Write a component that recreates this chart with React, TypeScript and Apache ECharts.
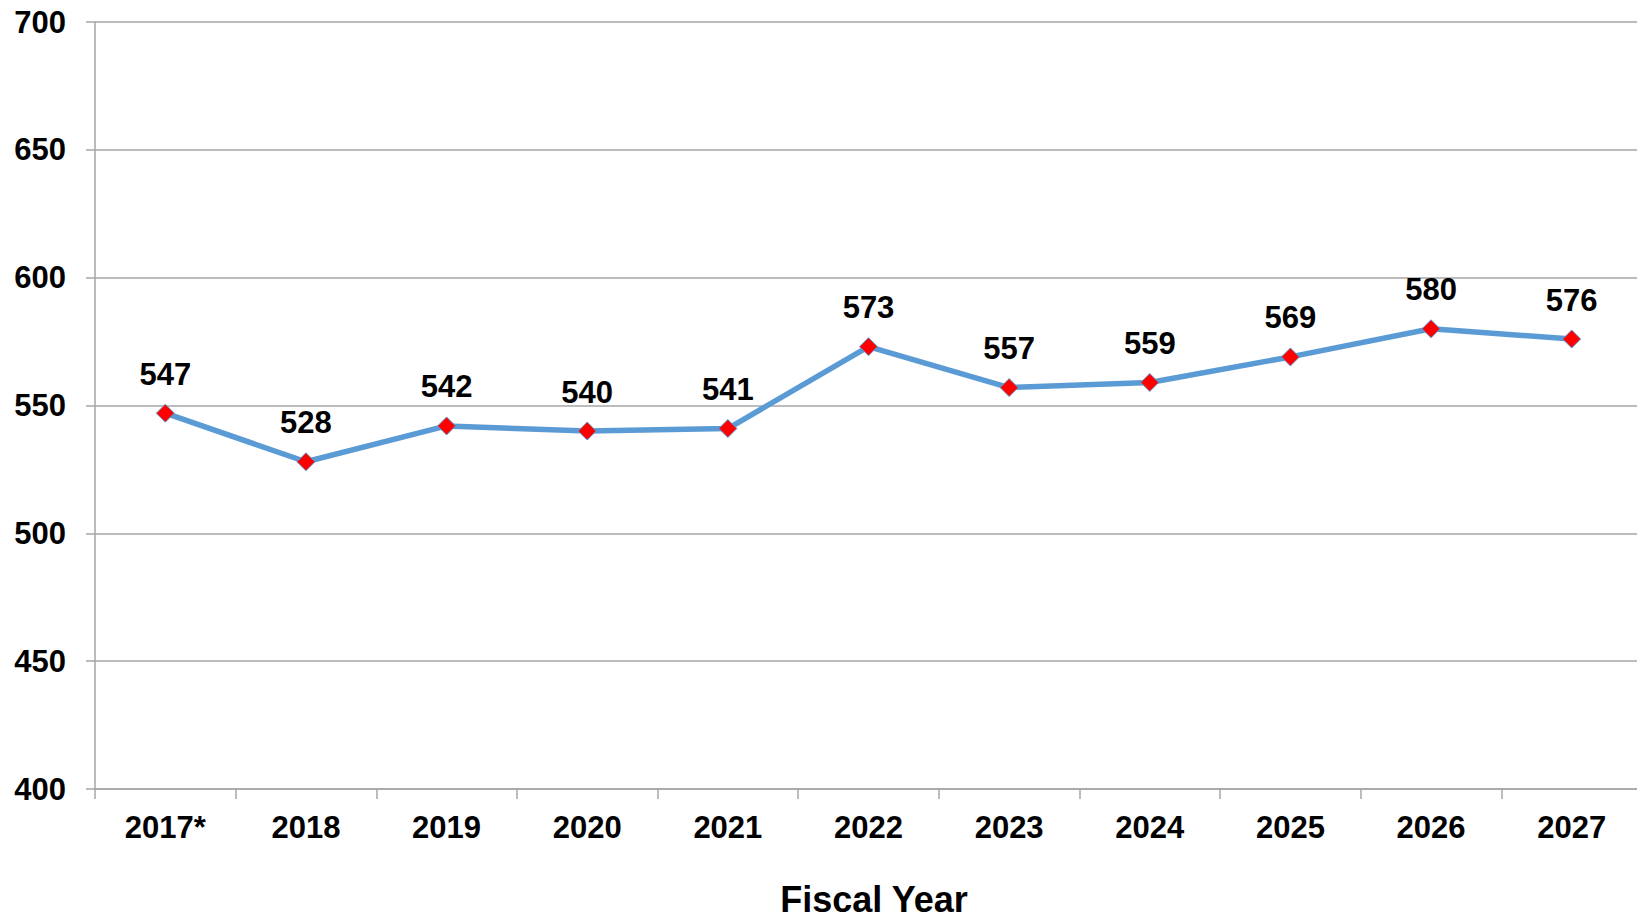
import React, { useEffect, useRef } from "react";
import * as echarts from "echarts";

const categories = ["2017*", "2018", "2019", "2020", "2021", "2022", "2023", "2024", "2025", "2026", "2027"];
const values = [547, 528, 542, 540, 541, 573, 557, 559, 569, 580, 576];
const yMin = 400;
const yMax = 700;
const yInterval = 50;

export default function App() {
  const ref = useRef<HTMLDivElement>(null);
  useEffect(() => {
    if (!ref.current) return;
    const chart = echarts.init(ref.current, null, { renderer: "svg" });
    const font = "'Liberation Sans', Arial, sans-serif";
    chart.setOption({
      animation: false,
      backgroundColor: "#ffffff",
      grid: { left: 95, top: 22, bottom: 130, right: 0, containLabel: false },
      xAxis: {
        type: "category",
        data: categories,
        boundaryGap: true,
        name: "Fiscal Year",
        nameLocation: "middle",
        nameGap: 92,
        nameTextStyle: { fontFamily: font, fontWeight: "bold", fontSize: 36, color: "#000", padding: [0, 0, 0, 11] },
        axisLine: { lineStyle: { color: "#A6A6A6", width: 1.5 } },
        axisTick: { show: true, length: 10, lineStyle: { color: "#A6A6A6", width: 1.5 } },
        axisLabel: { fontFamily: font, fontWeight: "bold", fontSize: 31, color: "#000", margin: 23 },
        splitLine: { show: false },
      },
      yAxis: {
        type: "value",
        min: yMin,
        max: yMax,
        interval: yInterval,
        axisLine: { show: true, lineStyle: { color: "#A6A6A6", width: 1.5 } },
        axisTick: { show: true, length: 9, lineStyle: { color: "#A6A6A6", width: 1.5 } },
        axisLabel: { fontFamily: font, fontWeight: "bold", fontSize: 31, color: "#000", margin: 29 },
        splitLine: { show: true, lineStyle: { color: "#A6A6A6", width: 1.5 } },
      },
      series: [
        {
          type: "line",
          data: values,
          lineStyle: { color: "#5B9BD5", width: 5.5 },
          symbol: "diamond",
          symbolSize: 18,
          itemStyle: { color: "#FF0000", borderColor: "#5B9BD5", borderWidth: 1 },
          label: {
            show: true,
            position: "top",
            distance: 14,
            fontFamily: font,
            fontWeight: "bold",
            fontSize: 31,
            color: "#000",
          },
        },
      ],
    });
    return () => chart.dispose();
  }, []);
  return (
    <div
      ref={ref}
      style={{ position: "fixed", left: 0, top: 0, width: 1642, height: 922, background: "#fff" }}
    />
  );
}
